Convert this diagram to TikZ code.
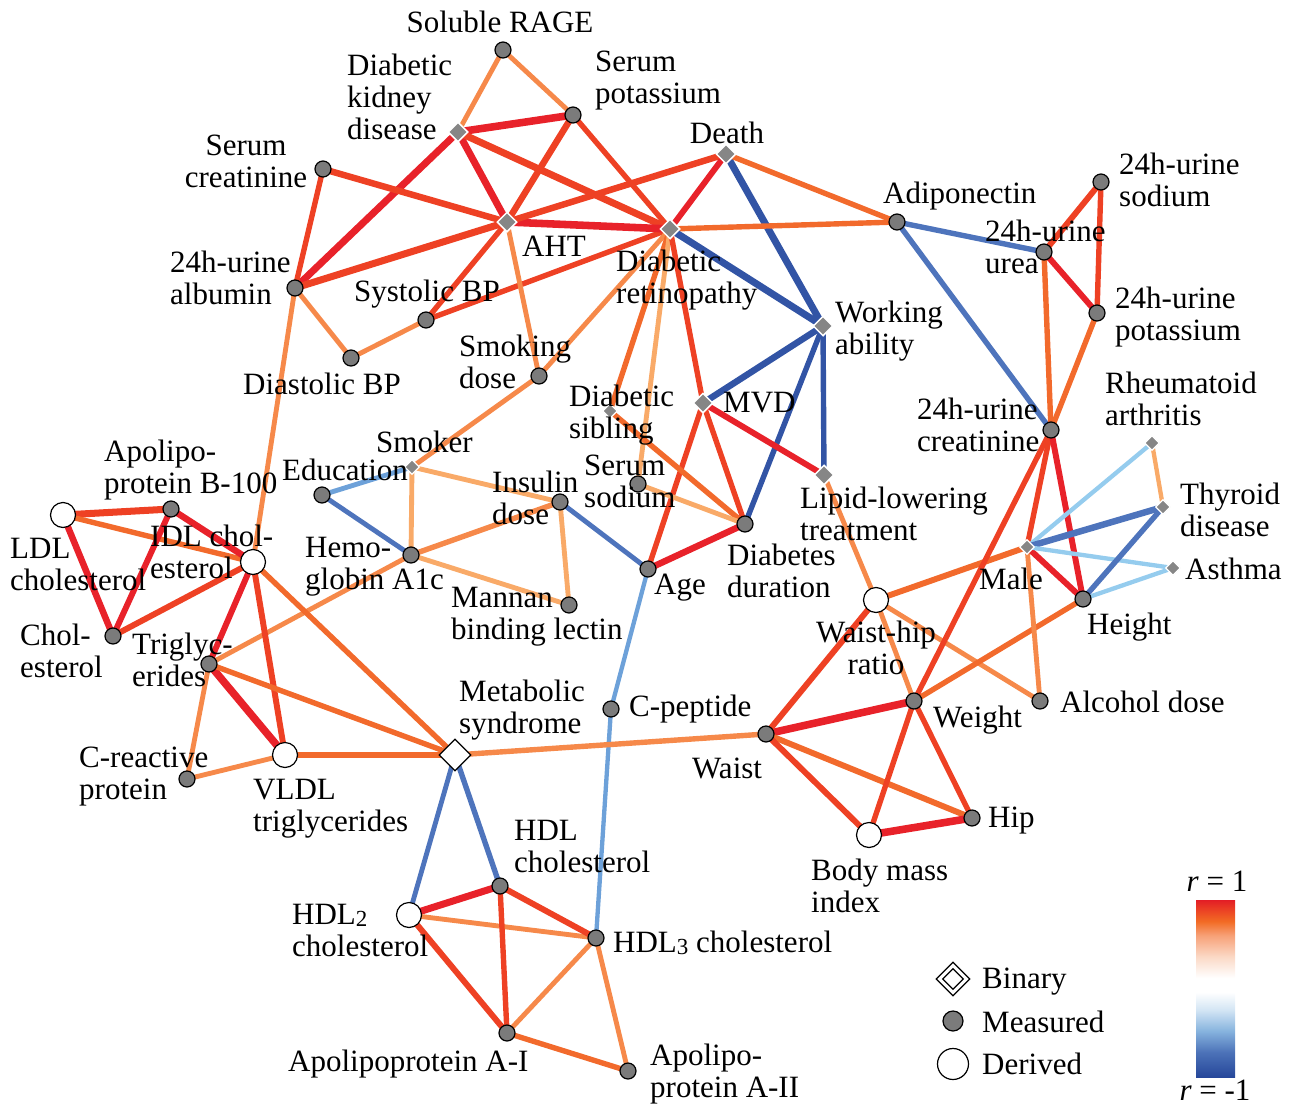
\documentclass[tikz,border=0pt]{standalone}
\usepackage{fontspec}
\setmainfont{Liberation Serif}
\usetikzlibrary{shapes.geometric,backgrounds}
\definecolor{cR}{HTML}{E8222A}
\definecolor{cRO}{HTML}{EE4124}
\definecolor{cO}{HTML}{F26A2C}
\definecolor{cLO}{HTML}{F6894A}
\definecolor{cPO}{HTML}{F9AA68}
\definecolor{cDB}{HTML}{3254A5}
\definecolor{cMB}{HTML}{4E74BC}
\definecolor{cLB}{HTML}{6DA1D9}
\definecolor{cPB}{HTML}{95CCEE}
\definecolor{nodeGray}{HTML}{7B7B7B}
\definecolor{binGray}{HTML}{868686}
\definecolor{cbR}{HTML}{E31E25}
\definecolor{cbR2}{HTML}{EC4524}
\definecolor{cbO}{HTML}{F26B24}
\definecolor{cbO2}{HTML}{F7A178}
\definecolor{cbO3}{HTML}{FBD9C6}
\definecolor{cbB3}{HTML}{D3E5F4}
\definecolor{cbB2}{HTML}{86B3DE}
\definecolor{cbB1}{HTML}{4C72B8}
\definecolor{cbB}{HTML}{26479A}
\pgfdeclareverticalshading{rbar}{100bp}{color(0bp)=(cbB); color(25bp)=(cbB); color(32bp)=(cbB1); color(38bp)=(cbB2); color(44bp)=(cbB3); color(49bp)=(white); color(53bp)=(white); color(59bp)=(cbO3); color(65bp)=(cbO2); color(69bp)=(cbO); color(72bp)=(cbR2); color(75bp)=(cbR); color(100bp)=(cbR)}
\newcommand{\sbsc}[1]{\raisebox{-2bp}{\fontsize{23bp}{23bp}\selectfont #1}}
\tikzset{
  meas/.style={circle,fill=nodeGray,draw=black,line width=1.2bp,minimum size=16bp,inner sep=0pt},
  deriv/.style={circle,fill=white,draw=black,line width=1.2bp,minimum size=25bp,inner sep=0pt},
  binL/.style={diamond,fill=binGray,draw=white,line width=1.5bp,minimum size=20bp,inner sep=0pt},
  binS/.style={diamond,fill=binGray,draw=white,line width=1.2bp,minimum size=15bp,inner sep=0pt},
  binW/.style={diamond,fill=white,draw=black,line width=1.2bp,minimum size=32bp,inner sep=0pt},
  lab/.style={font=\fontsize{31bp}{32bp}\selectfont,inner sep=0pt,align=left,anchor=west},
  labc/.style={font=\fontsize{31bp}{32bp}\selectfont,inner sep=0pt,align=center,anchor=center},
  eR/.style={draw=cR,line width={1.08*#1bp}}, eR/.default=6,
  eRO/.style={draw=cRO,line width={1.08*#1bp}}, eRO/.default=5,
  eO/.style={draw=cO,line width={1.08*#1bp}}, eO/.default=5,
  eLO/.style={draw=cLO,line width={1.08*#1bp}}, eLO/.default=4.5,
  ePO/.style={draw=cPO,line width={1.08*#1bp}}, ePO/.default=4.5,
  eDB/.style={draw=cDB,line width={1.08*#1bp}}, eDB/.default=6,
  eMB/.style={draw=cMB,line width={1.08*#1bp}}, eMB/.default=5,
  eLB/.style={draw=cLB,line width={1.08*#1bp}}, eLB/.default=4,
  ePB/.style={draw=cPB,line width={1.08*#1bp}}, ePB/.default=4,
}
\begin{document}
\begin{tikzpicture}[x=1bp,y=-1bp]
\useasboundingbox (0,0) rectangle (1295,1106);
% measured
\node[meas] (rage) at (503,50) {};
\node[meas] (serK) at (573,115) {};
\node[meas] (serCr) at (323,169) {};
\node[meas] (alb) at (295,288) {};
\node[meas] (sysBP) at (426,320) {};
\node[meas] (diaBP) at (351,358) {};
\node[meas] (smokD) at (539,376) {};
\node[meas] (adipo) at (897,222) {};
\node[meas] (uNa) at (1101,182) {};
\node[meas] (uUrea) at (1044,252) {};
\node[meas] (uK) at (1097,313) {};
\node[meas] (uCr) at (1051,430) {};
\node[meas] (apoB) at (171,509) {};
\node[meas] (chol) at (113,636) {};
\node[meas] (trig) at (209,664) {};
\node[meas] (crp) at (187,779) {};
\node[meas] (edu) at (322,495) {};
\node[meas] (hba) at (411,555) {};
\node[meas] (ins) at (560,502) {};
\node[meas] (mbl) at (569,605) {};
\node[meas] (serNa) at (638,484) {};
\node[meas] (age) at (648,569) {};
\node[meas] (dur) at (745,524) {};
\node[meas] (cpep) at (611,709) {};
\node[meas] (waist) at (766,734) {};
\node[meas] (weight) at (914,701) {};
\node[meas] (alc) at (1040,701) {};
\node[meas] (height) at (1083,599) {};
\node[meas] (hip) at (972,818) {};
\node[meas] (hdl) at (500,886) {};
\node[meas] (hdl3) at (596,938) {};
\node[meas] (apoA1) at (507,1033) {};
\node[meas] (apoA2) at (628,1071) {};
% derived
\node[deriv] (ldl) at (63,515) {};
\node[deriv] (idl) at (253,562) {};
\node[deriv] (vldl) at (285,755) {};
\node[deriv] (whr) at (876,600) {};
\node[deriv] (bmi) at (869,835) {};
\node[deriv] (hdl2) at (409,915) {};
% binary
\node[binL] (dkd) at (458,132) {};
\node[binL] (aht) at (507,222) {};
\node[binL] (dr) at (670,229) {};
\node[binL] (death) at (726,154) {};
\node[binL] (wa) at (823,326) {};
\node[binL] (mvd) at (703,403) {};
\node[binL] (lipid) at (824,475) {};
\node[binS] (sib) at (610,411) {};
\node[binS] (smoker) at (412,467) {};
\node[binS] (male) at (1027,547) {};
\node[binS] (ra) at (1152,443) {};
\node[binS] (thy) at (1163,507) {};
\node[binS] (asth) at (1173,568) {};
\node[binW] (mets) at (455,755) {};

\begin{pgfonlayer}{background}
\draw[eLO] (rage.center) -- (dkd.center);
\draw[eLO] (rage.center) -- (serK.center);
\draw[eR=7] (dkd.center) -- (serK.center);
\draw[eR=6.5] (dkd.center) -- (aht.center);
\draw[eRO=6.5] (dkd.center) -- (dr.center);
\draw[eR=6.5] (dkd.center) -- (alb.center);
\draw[eRO=6] (serK.center) -- (aht.center);
\draw[eRO=5] (serK.center) -- (dr.center);
\draw[eRO=6] (serCr.center) -- (aht.center);
\draw[eRO=5] (serCr.center) -- (alb.center);
\draw[eRO=6.5] (alb.center) -- (aht.center);
\draw[eLO] (alb.center) -- (diaBP.center);
\draw[eLO] (alb.center) -- (idl.center);
\draw[eLO] (diaBP.center) -- (sysBP.center);
\draw[eRO=5] (sysBP.center) -- (aht.center);
\draw[eRO=5] (sysBP.center) -- (dr.center);
\draw[eR=7] (aht.center) -- (dr.center);
\draw[eRO=6] (aht.center) -- (death.center);
\draw[eLO] (aht.center) -- (smokD.center);
\draw[eR=5.5] (dr.center) -- (death.center);
\draw[eDB=6.5] (death.center) -- (wa.center);
\draw[eO=5] (death.center) -- (adipo.center);
\draw[eO=5] (dr.center) -- (adipo.center);
\draw[eDB=6.5] (dr.center) -- (wa.center);
\draw[eLO] (dr.center) -- (smokD.center);
\draw[eLO] (smokD.center) -- (smoker.center);
\draw[eO=5] (dr.center) -- (sib.center);
\draw[ePO] (dr.center) -- (serNa.center);
\draw[eRO=5] (dr.center) -- (mvd.center);
\draw[eDB=6] (wa.center) -- (mvd.center);
\draw[eDB=5] (wa.center) -- (dur.center);
\draw[eDB=5] (wa.center) -- (lipid.center);
\draw[eRO=5] (mvd.center) -- (age.center);
\draw[eRO=5] (mvd.center) -- (dur.center);
\draw[eR=5.5] (mvd.center) -- (lipid.center);
\draw[eO=5] (sib.center) -- (dur.center);
\draw[ePO] (serNa.center) -- (dur.center);
\draw[eR=6] (age.center) -- (dur.center);
\draw[eMB=4.5] (age.center) -- (ins.center);
\draw[eLB] (age.center) -- (cpep.center);
\draw[eLB] (cpep.center) -- (hdl3.center);
\draw[ePO] (ins.center) -- (smoker.center);
\draw[ePO] (ins.center) -- (mbl.center);
\draw[eLO=5] (ins.center) -- (hba.center);
\draw[ePO] (hba.center) -- (smoker.center);
\draw[eMB=4.5] (hba.center) -- (edu.center);
\draw[eLB=4.5] (edu.center) -- (smoker.center);
\draw[ePO] (hba.center) -- (mbl.center);
\draw[eLO] (hba.center) -- (trig.center);
\draw[eRO=6.5] (ldl.center) -- (apoB.center);
\draw[eO=5] (ldl.center) -- (idl.center);
\draw[eR=6] (ldl.center) -- (chol.center);
\draw[eR=6] (apoB.center) -- (idl.center);
\draw[eR=5.5] (chol.center) -- (apoB.center);
\draw[eRO=5.5] (chol.center) -- (idl.center);
\draw[eR=5.5] (idl.center) -- (trig.center);
\draw[eRO=5.5] (idl.center) -- (vldl.center);
\draw[eO=5] (idl.center) -- (mets.center);
\draw[eR=7] (trig.center) -- (vldl.center);
\draw[eO=5] (trig.center) -- (mets.center);
\draw[eLO] (trig.center) -- (crp.center);
\draw[eLO] (crp.center) -- (vldl.center);
\draw[eO=5.5] (vldl.center) -- (mets.center);
\draw[eLO=5] (mets.center) -- (waist.center);
\draw[eMB=4.5] (mets.center) -- (hdl2.center);
\draw[eMB=5] (mets.center) -- (hdl.center);
\draw[eR=6.5] (hdl2.center) -- (hdl.center);
\draw[eLO] (hdl2.center) -- (hdl3.center);
\draw[eRO=5.5] (hdl2.center) -- (apoA1.center);
\draw[eRO=5.5] (hdl.center) -- (hdl3.center);
\draw[eRO=5] (hdl.center) -- (apoA1.center);
\draw[eLO] (hdl3.center) -- (apoA1.center);
\draw[eLO] (hdl3.center) -- (apoA2.center);
\draw[eO=5] (apoA1.center) -- (apoA2.center);
\draw[eR=7] (waist.center) -- (weight.center);
\draw[eRO=5.5] (waist.center) -- (whr.center);
\draw[eO=5.5] (waist.center) -- (hip.center);
\draw[eRO=5.5] (waist.center) -- (bmi.center);
\draw[eRO=5] (weight.center) -- (bmi.center);
\draw[eRO=5] (weight.center) -- (hip.center);
\draw[eR=7] (bmi.center) -- (hip.center);
\draw[eLO] (whr.center) -- (weight.center);
\draw[eLO] (whr.center) -- (alc.center);
\draw[eO=5.5] (whr.center) -- (male.center);
\draw[eLO] (whr.center) -- (lipid.center);
\draw[eO=5] (weight.center) -- (height.center);
\draw[eRO=5] (weight.center) -- (uCr.center);
\draw[eLO] (male.center) -- (alc.center);
\draw[eR=5.5] (male.center) -- (height.center);
\draw[eRO=5] (male.center) -- (uCr.center);
\draw[eR=5.5] (height.center) -- (uCr.center);
\draw[ePB] (male.center) -- (ra.center);
\draw[eMB=6] (male.center) -- (thy.center);
\draw[ePB] (male.center) -- (asth.center);
\draw[eMB=5] (height.center) -- (thy.center);
\draw[ePB] (height.center) -- (asth.center);
\draw[ePO=4] (ra.center) -- (thy.center);
\draw[eMB=5] (uCr.center) -- (adipo.center);
\draw[eO=5] (uCr.center) -- (uUrea.center);
\draw[eO=5] (uCr.center) -- (uK.center);
\draw[eRO=5.5] (uUrea.center) -- (uNa.center);
\draw[eR=5.5] (uUrea.center) -- (uK.center);
\draw[eRO=5] (uNa.center) -- (uK.center);
\draw[eMB=5] (adipo.center) -- (uUrea.center);
\end{pgfonlayer}

% labels
\node[labc] (lRage) at (500,22) {Soluble RAGE};
\node[lab] (lDkd) at (347,97) {Diabetic\\kidney\\disease};
\node[lab] (lSerK) at (595,81) {Serum\\potassium};
\node[labc] (lDeath) at (727,133) {Death};
\node[labc] (lSerCr) at (246,161) {Serum\\creatinine};
\node[lab] (lAlb) at (170,278) {24h-urine\\albumin};
\node[lab] (lAht) at (522,246) {AHT};
\node[lab] (lDr) at (616,280) {Diabetic\\retinopathy};
\node[lab] (lSys) at (354,294) {Systolic BP};
\node[lab] (lDia) at (243,384) {Diastolic BP};
\node[lab] (lSmokD) at (459,362) {Smoking\\dose};
\node[lab] (lAdipo) at (883,196) {Adiponectin};
\node[lab] (lNa) at (1119,180) {24h-urine\\sodium};
\node[lab] (lUrea) at (985,247) {24h-urine\\urea};
\node[lab] (lWa) at (835,331) {Working\\ability};
\node[lab] (lK) at (1115,317) {24h-urine\\potassium};
\node[lab] (lMvd) at (723,403) {MVD};
\node[lab] (lSib) at (569,415) {Diabetic\\sibling};
\node[lab] (lRa) at (1105,399) {Rheumatoid\\arthritis};
\node[lab] (lCr) at (917,425) {24h-urine\\creatinine};
\node[lab] (lApoB) at (104,470) {Apolipo-\\protein B-100};
\node[lab] (lSmoker) at (376,442) {Smoker};
\node[lab] (lEdu) at (282,470) {Education};
\node[lab] (lSerNa) at (584,481) {Serum\\sodium};
\node[lab] (lIns) at (492,498) {Insulin\\dose};
\node[lab] (lLipid) at (800,514) {Lipid-lowering\\treatment};
\node[lab] (lThy) at (1180,510) {Thyroid\\disease};
\node[lab] (lLdl) at (10,564) {LDL\\cholesterol};
\node[lab] (lIdl) at (150,552) {IDL chol-\\esterol};
\node[lab] (lHba) at (305,567) {Hemo-\\globin A1c};
\node[lab] (lDur) at (727,571) {Diabetes\\duration};
\node[lab] (lMale) at (979,579) {Male};
\node[lab] (lAsth) at (1185,569) {Asthma};
\node[lab] (lAge) at (654,588) {Age};
\node[lab] (lMbl) at (451,617) {Mannan\\binding lectin};
\node[lab] (lHeight) at (1087,627) {Height};
\node[lab] (lChol) at (20,651) {Chol-\\esterol};
\node[lab] (lTrig) at (132,660) {Triglyc-\\erides};
\node[labc] (lWhr) at (876,648) {Waist-hip\\ratio};
\node[lab] (lMets) at (459,710) {Metabolic\\syndrome};
\node[lab] (lCpep) at (629,709) {C-peptide};
\node[lab] (lAlc) at (1060,702) {Alcohol dose};
\node[lab] (lWeight) at (933,720) {Weight};
\node[lab] (lCrp) at (79,777) {C-reactive\\protein};
\node[lab] (lVldl) at (253,809) {VLDL\\triglycerides};
\node[lab] (lWaist) at (692,768) {Waist};
\node[lab] (lHip) at (988,821) {Hip};
\node[lab] (lHdl) at (514,846) {HDL\\cholesterol};
\node[lab] (lBmi) at (811,886) {Body mass\\index};
\node[lab] (lHdl2) at (292,930) {HDL\sbsc{2}\\cholesterol};
\node[lab] (lHdl3) at (613,943) {HDL\sbsc{3} cholesterol};
\node[lab] (lApoA1) at (288,1064) {Apolipoprotein A-I};
\node[lab] (lApoA2) at (650,1074) {Apolipo-\\protein A-II};

% legend
\node[diamond,fill=white,draw=black,line width=1.2bp,minimum size=34bp,inner sep=0pt] (lgBin) at (953,979) {};
\node[diamond,fill=white,draw=black,line width=1.2bp,minimum size=21bp,inner sep=0pt] (lgBinIn) at (953,979) {};
\node[circle,fill=nodeGray,draw=black,line width=1.2bp,minimum size=20bp,inner sep=0pt] (lgMeas) at (953,1021) {};
\node[circle,fill=white,draw=black,line width=1.2bp,minimum size=31bp,inner sep=0pt] (lgDer) at (953,1064) {};
\node[lab] (lgBinT) at (982,982) {Binary};
\node[lab] (lgMeasT) at (982,1022) {Measured};
\node[lab] (lgDerT) at (982,1064) {Derived};
\node[shade,shading=rbar,minimum width=39bp,minimum height=177bp,inner sep=0pt,anchor=north west] (cbar) at (1196,900) {};
\node[labc] (cbTop) at (1217,881) {\itshape r\/\upshape{} = 1};
\node[labc] (cbBot) at (1215,1090) {\itshape r\/\upshape{} = -1};
\end{tikzpicture}
\end{document}
